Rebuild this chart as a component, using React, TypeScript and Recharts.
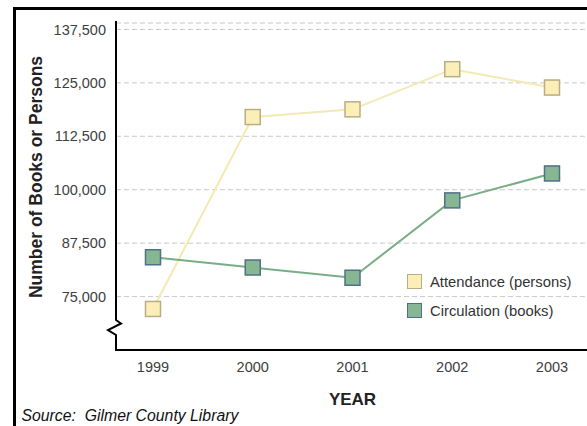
import React from 'react'
import { CartesianGrid, Legend, Line, LineChart, XAxis, YAxis } from 'recharts'

const years = ['1999', '2000', '2001', '2002', '2003']
const attendance = [72100, 117000, 118800, 128200, 123900]
const circulation = [84200, 81800, 79400, 97500, 103800]
const yTicks = [75000, 87500, 100000, 112500, 125000, 137500]

const data = years.map((year, i) => ({
  year,
  attendance: attendance[i],
  circulation: circulation[i],
}))

const FONT = '"Liberation Sans", Arial, sans-serif'
const YELLOW = { fill: '#fbefb7', stroke: '#b8ad84', line: '#f3e9b2' }
const GREEN = { fill: '#86b792', stroke: '#4e7189', line: '#79ad86' }

const squareDot = (fill: string, stroke: string) => (props: any) => {
  const { cx, cy, index } = props
  if (cx == null || cy == null) return <g key={index} />
  return (
    <rect
      key={index}
      x={cx - 7.5}
      y={cy - 7.5}
      width={15}
      height={15}
      fill={fill}
      stroke={stroke}
      strokeWidth={1.5}
    />
  )
}

const legendItems = [
  { label: 'Attendance (persons)', ...YELLOW },
  { label: 'Circulation (books)', ...GREEN },
]

const renderLegend = () => (
  <div style={{ fontFamily: FONT, fontSize: 14.8, color: '#333' }}>
    {legendItems.map((item) => (
      <div
        key={item.label}
        style={{ display: 'flex', alignItems: 'center', height: 29 }}
      >
        <span
          style={{
            display: 'inline-block',
            width: 13,
            height: 13,
            background: item.fill,
            border: `1.5px solid ${item.stroke}`,
            marginRight: 8,
          }}
        />
        {item.label}
      </div>
    ))}
  </div>
)

export default function App() {
  return (
    <div
      style={{
        position: 'absolute',
        left: 0,
        top: 0,
        width: 587,
        height: 426,
        background: '#fff',
        overflow: 'hidden',
        fontFamily: FONT,
      }}
    >
      <div
        style={{
          position: 'absolute',
          left: 13,
          top: 7,
          width: 620,
          height: 440,
          borderLeft: '3px solid #000',
          borderTop: '3px solid #000',
        }}
      />
      <div style={{ position: 'absolute', left: 0, top: 0 }}>
        <LineChart
          width={587}
          height={426}
          data={data}
          margin={{ top: 23, right: 0, left: 0, bottom: 46 }}
        >
          <CartesianGrid
            vertical={false}
            stroke="#c9c9c9"
            strokeDasharray="5 3"
          />
          <XAxis
            dataKey="year"
            height={30}
            padding={{ left: 37, right: 35 }}
            axisLine={{ stroke: '#000', strokeWidth: 2 }}
            tickLine={false}
            tickMargin={6}
            tick={{ fill: '#404040', fontSize: 14.5, fontFamily: FONT }}
          />
          <YAxis
            width={116}
            domain={[62500, 139000]}
            ticks={yTicks}
            axisLine={false}
            tickLine={false}
            tickMargin={4}
            tick={{ fill: '#404040', fontSize: 14.5, fontFamily: FONT }}
            tickFormatter={(v: number) => v.toLocaleString('en-US')}
          />
          <Legend
            layout="vertical"
            align="center"
            verticalAlign="middle"
            content={renderLegend}
            wrapperStyle={{ left: 407, top: 267, width: 180 }}
          />
          <Line
            dataKey="attendance"
            name="Attendance (persons)"
            stroke={YELLOW.line}
            strokeWidth={2}
            dot={squareDot(YELLOW.fill, YELLOW.stroke)}
            isAnimationActive={false}
          />
          <Line
            dataKey="circulation"
            name="Circulation (books)"
            stroke={GREEN.line}
            strokeWidth={2}
            dot={squareDot(GREEN.fill, GREEN.stroke)}
            isAnimationActive={false}
          />
        </LineChart>
      </div>
      <svg
        width={587}
        height={426}
        style={{ position: 'absolute', left: 0, top: 0, pointerEvents: 'none' }}
      >
        <polyline
          points="116,21 116,320 121,323.5 108,330 116,335 116,351"
          fill="none"
          stroke="#000"
          strokeWidth={2}
        />
        <text
          transform="translate(41.5, 177) rotate(-90)"
          textAnchor="middle"
          fontFamily={FONT}
          fontWeight="bold"
          fontSize={17.5}
          fill="#222"
        >
          Number of Books or Persons
        </text>
        <text
          x={352.5}
          y={405}
          textAnchor="middle"
          fontFamily={FONT}
          fontWeight="bold"
          fontSize={17}
          fill="#222"
        >
          YEAR
        </text>
        <text
          x={21.5}
          y={421}
          fontFamily={FONT}
          fontStyle="italic"
          fontSize={15.8}
          fill="#111"
        >
          {'Source:\u00a0 Gilmer County Library'}
        </text>
      </svg>
    </div>
  )
}
